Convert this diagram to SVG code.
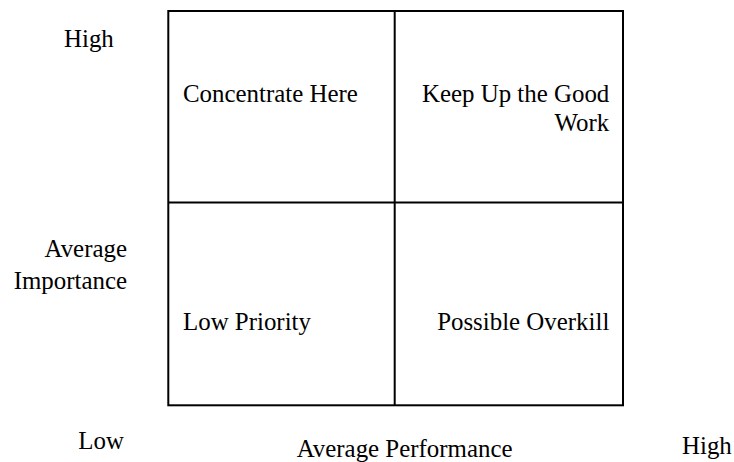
<svg xmlns="http://www.w3.org/2000/svg" width="734" height="462" viewBox="0 0 734 462">
<style>
.ln{stroke:#000;stroke-width:2;fill:none}
</style>
<rect width="734" height="462" fill="#fff"/>
<g id="grid">
<rect class="ln" x="168.3" y="11" width="454.7" height="394.3"/>
</g>
<g id="connectors">
<line class="ln" x1="394.7" y1="11" x2="394.7" y2="405.3"/>
<line class="ln" x1="168.3" y1="202.5" x2="623" y2="202.5"/>
</g>
<g font-family="'Liberation Serif', 'Times New Roman', Times, serif" font-size="24.9" fill="#000">
<g id="axis-labels">
<text x="64" y="46.7">High</text>
<text text-anchor="end" x="127" y="256.7">Average</text>
<text text-anchor="end" x="127" y="289">Importance</text>
<text x="78.3" y="449.3">Low</text>
<text x="296.7" y="456.5">Average Performance</text>
<text x="682" y="454">High</text>
</g>
<g id="q-concentrate"><text x="183" y="101.7">Concentrate Here</text></g>
<g id="q-keep"><text text-anchor="end" x="609.3" y="101.7">Keep Up the Good</text><text text-anchor="end" x="609.3" y="130.7">Work</text></g>
<g id="q-low"><text x="183" y="330">Low Priority</text></g>
<g id="q-overkill"><text text-anchor="end" x="609.3" y="330">Possible Overkill</text></g>
</g>
</svg>
